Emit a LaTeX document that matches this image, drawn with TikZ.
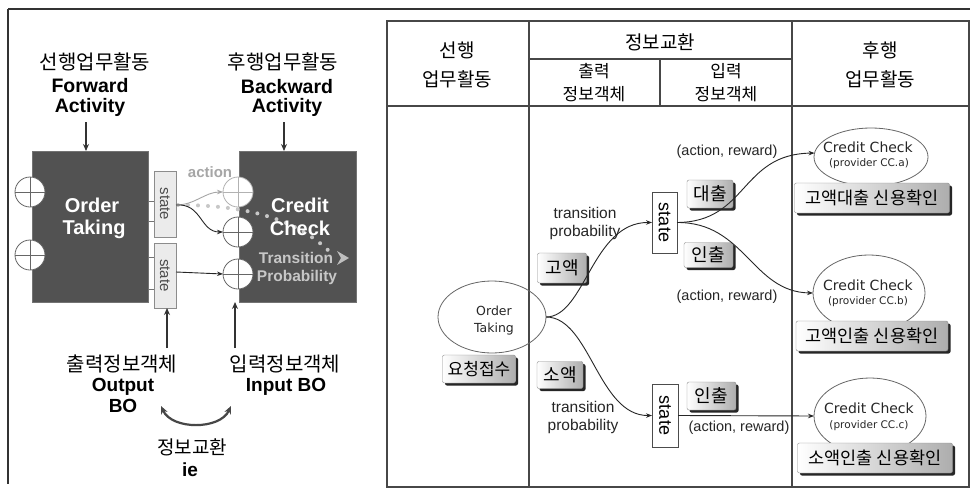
\documentclass[tikz,border=0pt]{standalone}
\usepackage{fontspec}
\setmainfont{Liberation Sans}
\newfontfamily\krf{Noto Sans CJK KR}
\newfontfamily\tahf{DejaVu Sans}
\usetikzlibrary{shapes.geometric,arrows.meta,shadows}
\tikzset{
  every node/.style={inner sep=0pt, outer sep=0pt},
  krt/.style={font=\krf\fontsize{#1}{#1}\selectfont},
  bld/.style={font=\bfseries\fontsize{#1}{#1}\selectfont},
  reg/.style={font=\fontsize{#1}{#1}\selectfont},
  tah/.style={font=\tahf\fontsize{#1}{#1}\selectfont},
  tbl/.style={draw=black!72, line width=2.2pt},
  frame/.style={draw=black!80, line width=1.3pt},
  lblbox/.style={draw=black!45, rounded corners=2pt, left color=white, right color=black!32,
    drop shadow={shadow xshift=2.5pt, shadow yshift=-2.5pt, fill=black!85, opacity=1},
    font=\krf\fontsize{#1}{#1}\selectfont},
  ccell/.style={ellipse, draw=black!60, line width=0.8pt, minimum width=112pt, minimum height=76pt},
  rstate/.style={draw=black!70, line width=0.8pt, fill=white},
  lstate/.style={draw=black!45, line width=0.7pt, fill=black!8},
  darkbox/.style={fill=black!68, draw=black!55, line width=0.6pt},
  plus/.style={circle, draw=#1, fill=white, line width=0.8pt, minimum size=30pt,
    path picture={\draw[#1, line width=0.7pt] (path picture bounding box.north) -- (path picture bounding box.south)
      (path picture bounding box.west) -- (path picture bounding box.east);}},
  cv/.style={draw=black!85, line width=0.9pt, -{Stealth[length=6pt,width=4.5pt]}},
  bigarr/.style={draw=black!80, line width=1.5pt, -{Stealth[length=7pt,width=6pt]}},
}
\begin{document}
\begin{tikzpicture}[x=1pt,y=-1pt]
\useasboundingbox (0,0) rectangle (970,493);
\fill[white] (0,0) rectangle (970,493);

% ---------------- outer frame lines ----------------
\draw[frame] (8,9) -- (970,9);
\draw[frame] (8,9) -- (8,484);

% ---------------- left panel ----------------
\node[krt=20] (fwk) at (95,62) {선행업무활동};
\node[bld=19.5] (fw1) at (90,86) {Forward};
\node[bld=19.5] (fw2) at (90,107) {Activity};
\node[krt=20] (bwk) at (283,62) {후행업무활동};
\node[bld=19.5] (bw1) at (287,87) {Backward};
\node[bld=19.5] (bw2) at (287,107) {Activity};

\node[darkbox, minimum width=116pt, minimum height=151pt] (otbox) at (90,226.5) {};
\node[darkbox, minimum width=117pt, minimum height=151pt] (ccbox) at (297.5,226.5) {};

\draw[bigarr] (86,122) -- (otbox.north -| 86,0);
\draw[bigarr] (284,122) -- (ccbox.north -| 284,0);

% dotted transition path (behind texts)
\coordinate (dotS) at (178,205);
\coordinate (dotE) at (330,252);
\draw[draw=black!22, line width=4pt, line cap=round, dash pattern=on 0pt off 10pt]
  (dotS) .. controls (245,205) and (295,218) .. (dotE);
\fill[black!25] (337,251) -- (349,258) -- (337,265) -- (341,258) -- cycle;

\node[bld=20, text=white] (ottx1) at (92,205) {Order};
\node[bld=20, text=white] (ottx2) at (94,229) {Taking};
\node[bld=20, text=white] (cctx1) at (300,205) {Credit};
\node[bld=20, text=white] (cctx2) at (300,228) {Check};
\node[bld=15.5, text=black!22] (tp1) at (296,258) {Transition};
\node[bld=15.5, text=black!22] (tp2) at (297,277) {Probability};

% small port ticks
\draw[black!55, line width=0.7pt] (148,201) -- (154,201) (148,221) -- (154,221)
  (148,257) -- (154,257) (148,289) -- (154,289);

\node[lstate, minimum width=22pt, minimum height=66pt] (ls1) at (165,204) {};
\node[lstate, minimum width=22pt, minimum height=65pt] (ls2) at (165,275.5) {};
\node[reg=15, text=black!70, rotate=-90] (ls1t) at (165,204) {state};
\node[reg=15, text=black!70, rotate=-90] (ls2t) at (165,275.5) {state};

\node[plus=black!60] (pl1) at (30,192) {};
\node[plus=black!60] (pl2) at (30,255) {};
\node[plus=black!30] (pr1) at (238,192) {};
\node[plus=black!60] (pr2) at (238,232) {};
\node[plus=black!60] (pr3) at (238,274) {};

\node[bld=15, text=black!35] (act) at (210,172) {action};

\draw[cv, draw=black!35] (ls1.east |- 0,205) .. controls (195,205) and (205,192) .. (pr1.west);
\draw[cv] (ls1.east |- 0,205) .. controls (202,203) and (200,232) .. (pr2.west);
\draw[cv] (ls2.east |- 0,272) -- (pr3.west);

\node[krt=20] (outk) at (122,364) {출력정보객체};
\node[bld=19] (out1) at (123,387) {Output};
\node[bld=19] (out2) at (123,406) {BO};
\node[krt=20] (ink) at (285,364) {입력정보객체};
\node[bld=19] (in1) at (286,387) {Input BO};

\draw[bigarr] (167,348) -- (ls2.south -| 167,0);
\draw[bigarr] (235,348) -- (ccbox.south -| 235,0);

\coordinate (ieL) at (161,406);
\coordinate (ieR) at (231,406);
\draw[draw=black!72, line width=2.2pt, {Stealth[length=8pt,width=7pt]}-{Stealth[length=8pt,width=7pt]}]
  (ieL) .. controls (172,430) and (220,430) .. (ieR);
\node[krt=19] (iek) at (192,447) {정보교환};
\node[bld=19] (ie) at (190,470) {ie};

% ---------------- right panel: table ----------------
\draw[tbl] (387,21) rectangle (969,487);
\draw[tbl] (529,21) -- (529,487);
\draw[tbl] (792,21) -- (792,487);
\draw[tbl] (387,106) -- (969,106);
\draw[tbl] (529,59) -- (792,59);
\draw[tbl] (660,59) -- (660,106);

\node[krt=19] (h1a) at (457,50) {선행};
\node[krt=19] (h1b) at (457,79) {업무활동};
\node[krt=19] (h2) at (660,42) {정보교환};
\node[krt=17] (h2a1) at (594,71) {출력};
\node[krt=17] (h2a2) at (594,94) {정보객체};
\node[krt=17] (h2b1) at (726,71) {입력};
\node[krt=17] (h2b2) at (726,94) {정보객체};
\node[krt=19] (h3a) at (880,50) {후행};
\node[krt=19] (h3b) at (880,79) {업무활동};

% ellipses
\node[ccell, minimum width=108pt, minimum height=72pt] (ot) at (492,317) {};
\node[tah=12.5, text=black!85] (ot1) at (494,311) {Order};
\node[tah=12.5, text=black!85] (ot2) at (494,329) {Taking};

\node[ccell, minimum width=114pt, minimum height=58pt] (ea) at (871,157) {};
\node[ccell] (eb) at (869,293) {};
\node[ccell] (ec) at (870,416) {};
\node[tah=14, text=black!85] (ea1) at (868,147) {Credit Check};
\node[tah=10.5, text=black!85] (ea2) at (869,164) {(provider CC.a)};
\node[tah=14, text=black!85] (eb1) at (868,285) {Credit Check};
\node[tah=10.5, text=black!85] (eb2) at (868,302) {(provider CC.b)};
\node[tah=14, text=black!85] (ec1) at (869,408) {Credit Check};
\node[tah=10.5, text=black!85] (ec2) at (869,426) {(provider CC.c)};

% state boxes
\node[rstate, minimum width=25pt, minimum height=61pt] (su) at (664.5,222.5) {};
\node[rstate, minimum width=26pt, minimum height=63pt] (sl) at (665,415.5) {};
\node[reg=18, rotate=-90] (sut) at (664.5,222.5) {state};
\node[reg=18, rotate=-90] (slt) at (665,415.5) {state};

% label boxes
\node[lblbox=17, minimum width=73pt, minimum height=28pt] (b1) at (479,369) {요청접수};
\node[lblbox=18, minimum width=49pt, minimum height=30pt] (b2) at (562,268) {고액};
\node[lblbox=18, minimum width=46pt, minimum height=27pt] (b3) at (560,375) {소액};
\node[lblbox=18, minimum width=46pt, minimum height=28pt] (b4) at (710,194) {대출};
\node[lblbox=18, minimum width=49pt, minimum height=25pt] (b5) at (708.5,255) {인출};
\node[lblbox=18, minimum width=49pt, minimum height=28pt] (b6) at (711.5,396) {인출};
\node[lblbox=17.5, minimum width=155pt, minimum height=30pt] (b7) at (872,198) {고액대출 신용확인};
\node[lblbox=17.5, minimum width=152pt, minimum height=30pt] (b8) at (872,336) {고액인출 신용확인};
\node[lblbox=17.5, minimum width=155pt, minimum height=30pt] (b9) at (875,458) {소액인출 신용확인};

% texts
\node[reg=15.5, text=black!85] (tpu1) at (585,213) {transition};
\node[reg=15.5, text=black!85] (tpu2) at (585,232) {probability};
\node[reg=15.5, text=black!85] (tpl1) at (583,407) {transition};
\node[reg=15.5, text=black!85] (tpl2) at (583,426) {probability};
\node[reg=14.5, text=black!85] (ar1) at (727,152) {(action, reward)};
\node[reg=14.5, text=black!85] (ar2) at (727,297) {(action, reward)};
\node[reg=14.5, text=black!85] (ar3) at (739,428) {(action, reward)};

% connectors
\draw[cv] (ot.east) .. controls (585,317) and (592,222) .. (su.west);
\draw[cv] (ot.east) .. controls (590,317) and (598,416) .. (sl.west);
\draw[cv] (su.east) .. controls (748,222) and (740,154) .. (ea.176);
\draw[cv] (su.east) .. controls (745,222) and (752,292) .. (eb.west);
\draw[cv] (sl.east) -- (ec.west);
\end{tikzpicture}
\end{document}
